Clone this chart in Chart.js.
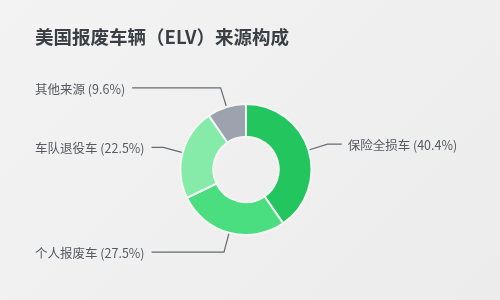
<!DOCTYPE html>
<html>
<head>
<meta charset="utf-8">
<script src="https://cdn.jsdelivr.net/npm/chart.js@4"></script>
<style>
  html, body { margin: 0; padding: 0; }
  body {
    width: 500px; height: 300px; overflow: hidden;
    background: linear-gradient(135deg, #f3f3f3 0%, #ececec 100%);
  }
  #wrap { position: relative; width: 500px; height: 300px; }
</style>
</head>
<body>
<div id="wrap"><canvas id="js-elv-chart"></canvas></div>
<script>
// ELV source breakdown (US)
const title = "美国报废车辆（ELV）来源构成";
const labels = ["保险全损车", "个人报废车", "车队退役车", "其他来源"];
const shares = [40.4, 27.5, 22.5, 9.6];
const colors = ["#22c55e", "#4ade80", "#86eaa9", "#9ca3af"];

const FONT = "'Noto Sans CJK SC', 'Noto Sans', sans-serif";

// leader lines + labels, plus the title
const calloutPlugin = {
    id: "callouts",
    afterDraw(chart) {
        const ctx = chart.ctx;
        ctx.save();

        ctx.fillStyle = "#3a3f45";
        ctx.font = "bold 18.5px " + FONT;
        ctx.textBaseline = "middle";
        ctx.textAlign = "left";
        ctx.fillText(title, 35, 37);

        const arcs = chart.getDatasetMeta(0).data;
        ctx.font = "12.5px " + FONT;
        ctx.strokeStyle = "#666b70";
        ctx.lineWidth = 1.2;
        arcs.forEach((arc, i) => {
            const { x, y, startAngle, endAngle, outerRadius } = arc.getProps(["x", "y", "startAngle", "endAngle", "outerRadius"], true);
            const mid = (startAngle + endAngle) / 2;
            const p0 = { x: x + Math.cos(mid) * (outerRadius + 1), y: y + Math.sin(mid) * (outerRadius + 1) };
            const p1 = { x: x + Math.cos(mid) * (outerRadius + 20), y: y + Math.sin(mid) * (outerRadius + 20) };
            const text = `${labels[i]} (${shares[i]}%)`;
            const right = Math.cos(mid) >= 0;
            let p2, tx;
            if (right) {
                p2 = { x: p1.x + 14, y: p1.y };
                tx = p2.x + 6;
            } else {
                const w = ctx.measureText(text).width;
                tx = 35;
                p2 = { x: tx + w + 7, y: p1.y };
            }
            ctx.beginPath();
            ctx.moveTo(p0.x, p0.y);
            ctx.lineTo(p1.x, p1.y);
            ctx.lineTo(p2.x, p2.y);
            ctx.stroke();
            ctx.fillStyle = "#555a60";
            ctx.fillText(text, tx, p1.y + 1);
        });
        ctx.restore();
    }
};

new Chart(document.querySelector("#js-elv-chart"), {
    type: "doughnut",
    data: {
        labels: labels,
        datasets: [{
            data: shares,
            backgroundColor: colors,
            borderColor: "#f4f6f4",
            borderWidth: 2,
        }]
    },
    options: {
        responsive: true,
        maintainAspectRatio: false,
        animation: false,
        cutout: "50%",
        layout: {
            padding: { top: 103, bottom: 64, left: 100, right: 108 }
        },
        plugins: {
            legend: { display: false },
            tooltip: { enabled: false },
        }
    },
    plugins: [calloutPlugin]
});
</script>
</body>
</html>
